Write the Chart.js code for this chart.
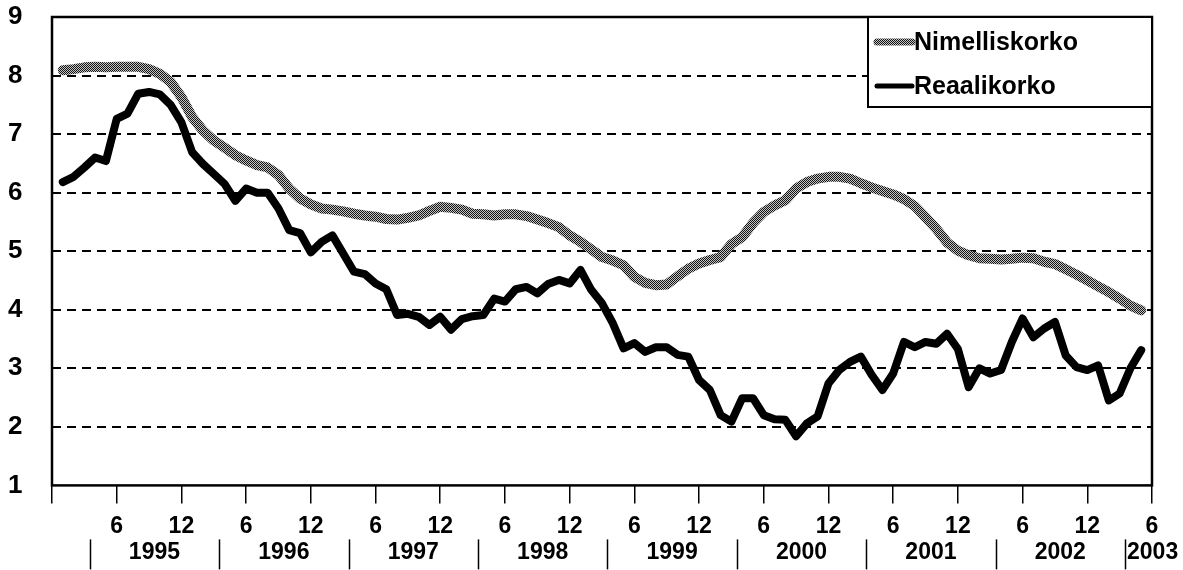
<!DOCTYPE html>
<html>
<head>
<meta charset="utf-8">
<script src="https://cdn.jsdelivr.net/npm/chart.js@4.4.1/dist/chart.umd.min.js"></script>
<style>
    html, body { margin: 0; padding: 0; background: #fff; }
    #wrap { width: 1183px; height: 570px; position: relative; }
</style>
</head>
<body>
<div id="wrap"><canvas id="korot"></canvas></div>
<script>
// Monthly values, Jan 1995 .. May 2003
const nimelliskorko = [
    8.09, 8.11, 8.14, 8.15, 8.14, 8.15, 8.15, 8.15, 8.11, 8.03, 7.89, 7.63,
    7.29, 7.06, 6.89, 6.77, 6.64, 6.55, 6.47, 6.43, 6.30, 6.07, 5.90, 5.80,
    5.73, 5.71, 5.68, 5.64, 5.61, 5.59, 5.55, 5.54, 5.57, 5.61, 5.69, 5.76,
    5.74, 5.71, 5.64, 5.63, 5.61, 5.63, 5.63, 5.60, 5.54, 5.48, 5.41, 5.27,
    5.16, 5.03, 4.90, 4.84, 4.76, 4.56, 4.46, 4.42, 4.43, 4.57, 4.70, 4.79,
    4.85, 4.90, 5.12, 5.24, 5.48, 5.67, 5.78, 5.87, 6.07, 6.18, 6.24, 6.27,
    6.27, 6.24, 6.16, 6.09, 6.03, 5.97, 5.89, 5.77, 5.58, 5.38, 5.15, 5.01,
    4.93, 4.88, 4.87, 4.86, 4.87, 4.89, 4.88, 4.82, 4.78, 4.69, 4.60, 4.50,
    4.40, 4.30, 4.19, 4.07, 3.99
];
const reaalikorko = [
    6.18, 6.27, 6.43, 6.60, 6.54, 7.26, 7.35, 7.69, 7.72, 7.68, 7.50, 7.20,
    6.69, 6.49, 6.32, 6.15, 5.86, 6.07, 6.00, 6.00, 5.73, 5.36, 5.31, 4.98,
    5.16, 5.27, 4.96, 4.65, 4.61, 4.45, 4.35, 3.91, 3.93, 3.88, 3.74, 3.88,
    3.66, 3.84, 3.89, 3.91, 4.19, 4.14, 4.35, 4.39, 4.28, 4.44, 4.51, 4.45,
    4.68, 4.34, 4.11, 3.77, 3.34, 3.43, 3.28, 3.36, 3.36, 3.23, 3.20, 2.80,
    2.63, 2.20, 2.09, 2.49, 2.49, 2.20, 2.13, 2.12, 1.84, 2.06, 2.18, 2.74,
    2.97, 3.11, 3.20, 2.89, 2.63, 2.91, 3.45, 3.36, 3.45, 3.42, 3.59, 3.33,
    2.68, 3.00, 2.91, 2.97, 3.45, 3.85, 3.53, 3.68, 3.79, 3.22, 3.02, 2.97,
    3.05, 2.45, 2.57, 3.00, 3.31
];
// one tick every six months, from Dec 1994 to Jun 2003
const monthTicks = ['', '6', '12', '6', '12', '6', '12', '6', '12', '6', '12',
                    '6', '12', '6', '12', '6', '12', '6'];
const years = ['1995', '1996', '1997', '1998', '1999', '2000', '2001', '2002', '2003'];
const seriesNames = ['Nimelliskorko', 'Reaalikorko'];

// stippled grey like the printed original
function makeStipple() {
    const c = document.createElement('canvas');
    c.width = 4;
    c.height = 4;
    const g = c.getContext('2d');
    g.fillStyle = '#c4c4c4';
    g.fillRect(0, 0, 4, 4);
    g.fillStyle = '#151515';
    for (let y = 0; y < 4; y++) {
        for (let x = 0; x < 4; x++) {
            if ((x + y) % 2 === 0) g.fillRect(x, y, 1, 1);
        }
    }
    return g.createPattern(c, 'repeat');
}
const stipple = makeStipple();

const FONT = "'Liberation Sans', Arial, sans-serif";

const framePlugin = {
    id: 'frameAndExtras',
    afterDraw(chart) {
        const ctx = chart.ctx;
        const area = chart.chartArea;
        const xs = chart.scales.x;

        ctx.save();
        // plot frame
        ctx.strokeStyle = '#000';
        ctx.lineWidth = 2.5;
        ctx.strokeRect(area.left, area.top, area.right - area.left, area.bottom - area.top);

        // legend box
        const boxW = 284, boxH = 90;
        const bx = area.right - boxW, by = area.top;
        ctx.fillStyle = '#fff';
        ctx.fillRect(bx, by, boxW, boxH);
        ctx.lineWidth = 2;
        ctx.strokeRect(bx, by, boxW, boxH);
        chart.data.datasets.forEach(function(ds, i) {
            const yy = by + 25 + i * 44;
            ctx.beginPath();
            ctx.strokeStyle = ds.borderColor;
            ctx.lineWidth = ds.borderWidth - 3;
            ctx.lineCap = 'round';
            ctx.moveTo(bx + 9, yy);
            ctx.lineTo(bx + 44, yy);
            ctx.stroke();
            ctx.fillStyle = '#000';
            ctx.font = 'bold 25px ' + FONT;
            ctx.textAlign = 'left';
            ctx.textBaseline = 'middle';
            ctx.fillText(ds.label, bx + 46, yy + 1);
        });

        // year row under the month ticks
        const rowTop = area.bottom + 54;
        const rowMid = area.bottom + 67;
        ctx.strokeStyle = '#000';
        ctx.lineWidth = 1.5;
        ctx.lineCap = 'butt';
        ctx.fillStyle = '#000';
        ctx.font = 'bold 23px ' + FONT;
        ctx.textBaseline = 'middle';
        years.forEach(function(yr, k) {
            const sep = xs.getPixelForValue(2.5 + k * 12);
            ctx.beginPath();
            ctx.moveTo(Math.round(sep) + 0.5, rowTop);
            ctx.lineTo(Math.round(sep) + 0.5, rowTop + 30);
            ctx.stroke();
            if (k < years.length - 1) {
                ctx.textAlign = 'center';
                ctx.fillText(yr, xs.getPixelForValue(8.5 + k * 12), rowMid);
            } else {
                ctx.textAlign = 'left';
                ctx.fillText(yr, sep + 2, rowMid);
            }
        });
        ctx.restore();
    }
};

const ctx = document.getElementById('korot');
new Chart(ctx, {
    type: 'line',
    data: {
        datasets: [{
            label: seriesNames[0],
            data: nimelliskorko.map((v, i) => ({ x: i, y: v })),
            borderColor: stipple,
            borderWidth: 10,
            pointRadius: 0,
            tension: 0,
            borderJoinStyle: 'round',
            borderCapStyle: 'round'
        }, {
            label: seriesNames[1],
            data: reaalikorko.map((v, i) => ({ x: i, y: v })),
            borderColor: '#000',
            borderWidth: 8,
            pointRadius: 0,
            tension: 0,
            borderJoinStyle: 'round',
            borderCapStyle: 'round'
        }]
    },
    options: {
        responsive: true,
        maintainAspectRatio: false,
        animation: false,
        layout: { padding: { left: 8, right: 31, top: 17, bottom: 21 } },
        plugins: {
            legend: { display: false },
            tooltip: { enabled: false }
        },
        scales: {
            x: {
                type: 'linear',
                min: -1,
                max: 101,
                afterBuildTicks: function(scale) {
                    scale.ticks = monthTicks.map((t, k) => ({ value: -1 + k * 6 }));
                },
                ticks: {
                    autoSkip: false,
                    maxRotation: 0,
                    padding: 9,
                    color: '#000',
                    font: { family: FONT, size: 23, weight: 'bold' },
                    callback: function(value, index) { return monthTicks[index]; }
                },
                grid: {
                    drawOnChartArea: false,
                    drawTicks: true,
                    tickLength: 18,
                    color: '#000',
                    lineWidth: 1.5
                },
                border: { display: false }
            },
            y: {
                min: 1,
                max: 9,
                afterFit: function(scale) { scale.width = 44; },
                ticks: {
                    stepSize: 1,
                    padding: 2,
                    crossAlign: 'far',
                    color: '#000',
                    font: { family: FONT, size: 26, weight: 'bold', lineHeight: 1 }
                },
                grid: {
                    drawTicks: false,
                    lineWidth: 2,
                    color: function(c) {
                        const v = c.tick ? c.tick.value : null;
                        return (v === 1 || v === 9) ? 'rgba(0,0,0,0)' : '#000';
                    }
                },
                border: { display: false, dash: [9, 6] }
            }
        }
    },
    plugins: [framePlugin]
});
</script>
</body>
</html>
